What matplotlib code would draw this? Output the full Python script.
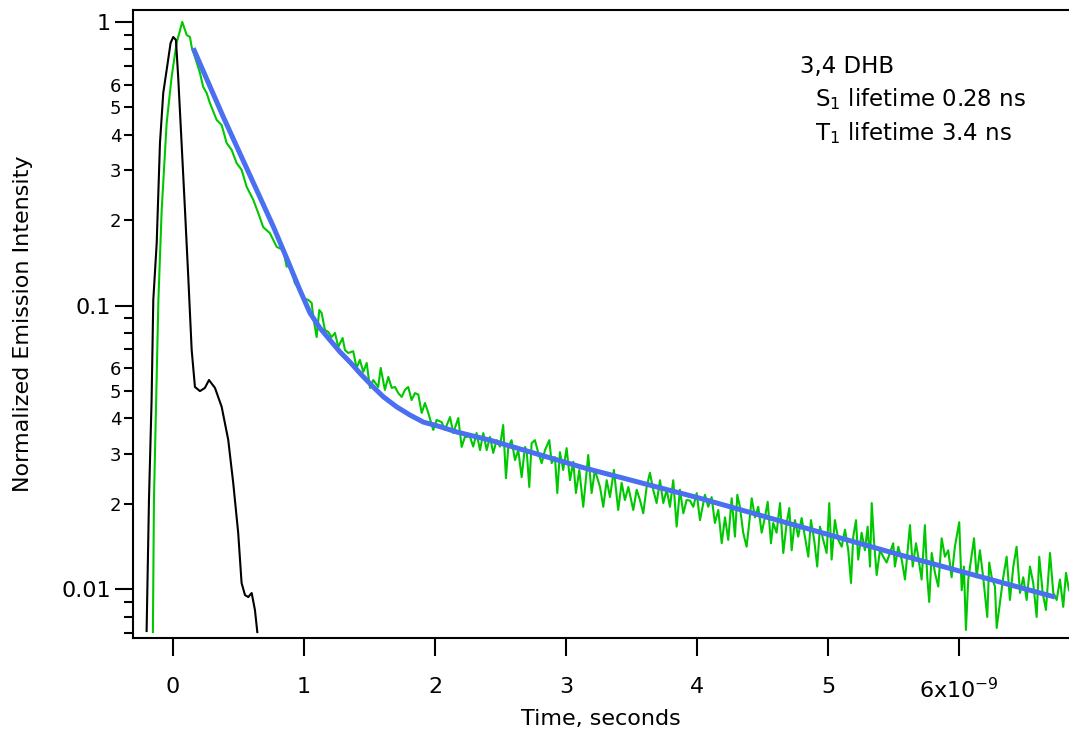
import numpy as np
import matplotlib
matplotlib.use("Agg")
import matplotlib.pyplot as plt
from matplotlib.ticker import FixedLocator, FixedFormatter, NullLocator

# time in ns, intensity normalized
irf_t = [-0.201, -0.183, -0.163, -0.150, -0.124, -0.099, -0.074, -0.048, -0.018, 0.002,
         0.023, 0.040, 0.066, 0.092, 0.117, 0.143, 0.168, 0.206, 0.244, 0.275,
         0.321, 0.372, 0.422, 0.460, 0.498, 0.524, 0.550, 0.575, 0.601, 0.626, 0.644]
irf_y = [0.00711, 0.0206, 0.0464, 0.1045, 0.166, 0.374, 0.562, 0.677, 0.843, 0.885,
         0.864, 0.640, 0.374, 0.217, 0.126, 0.0697, 0.0516, 0.0499, 0.0512, 0.0546,
         0.0512, 0.0439, 0.0336, 0.0237, 0.0158, 0.0105, 0.00952, 0.00937, 0.00968, 0.00843, 0.00705]

decay_t = [-0.153, -0.145, -0.126, -0.111, -0.086, -0.048, -0.010, 0.028, 0.071, 0.105,
           0.130, 0.143, 0.168, 0.206, 0.231, 0.257, 0.282, 0.334, 0.372, 0.410,
           0.448, 0.486, 0.524, 0.563, 0.613, 0.651, 0.689, 0.740, 0.792, 0.842,
           0.868, 0.893, 0.931, 0.969, 0.995, 1.033, 1.059, 1.071, 1.097, 1.117,
           1.135, 1.160, 1.185, 1.211, 1.237, 1.262, 1.295, 1.313, 1.338, 1.376,
           1.402, 1.427, 1.453, 1.479, 1.504, 1.529, 1.567, 1.586, 1.618, 1.644,
           1.670, 1.695, 1.720, 1.746, 1.771, 1.796, 1.822, 1.847, 1.873, 1.899,
           1.924, 1.949, 1.987, 2.013, 2.051, 2.076, 2.115, 2.140, 2.178, 2.204,
           2.229, 2.267, 2.292, 2.318, 2.344, 2.369, 2.395, 2.420, 2.445, 2.471,
           2.496, 2.521, 2.542, 2.560, 2.585, 2.611, 2.636, 2.662, 2.687, 2.700,
           2.720, 2.738, 2.763, 2.789, 2.815, 2.840, 2.873, 2.891, 2.916, 2.934,
           2.954, 2.979, 3.005, 3.031, 3.056, 3.076, 3.102, 3.132, 3.170, 3.196,
           3.221, 3.260, 3.285, 3.311, 3.336, 3.366, 3.399, 3.425, 3.450, 3.476,
           3.514, 3.540, 3.565, 3.590, 3.616, 3.641, 3.666, 3.692, 3.718, 3.743,
           3.769, 3.794, 3.819, 3.845, 3.870, 3.896, 3.921, 3.947, 3.972, 3.998,
           4.023, 4.061, 4.086, 4.112, 4.137, 4.163, 4.189, 4.214, 4.239, 4.265,
           4.290, 4.308, 4.328, 4.353, 4.379, 4.399, 4.418, 4.443, 4.468, 4.494,
           4.519, 4.540, 4.565, 4.582, 4.608, 4.634, 4.659, 4.685, 4.705, 4.723,
           4.748, 4.773, 4.799, 4.824, 4.850, 4.870, 4.895, 4.918, 4.939, 4.964,
           4.990, 5.010, 5.028, 5.053, 5.079, 5.105, 5.130, 5.155, 5.176, 5.193,
           5.214, 5.231, 5.257, 5.282, 5.303, 5.321, 5.334, 5.351, 5.372, 5.397,
           5.422, 5.448, 5.473, 5.498, 5.511, 5.537, 5.563, 5.588, 5.613, 5.626,
           5.647, 5.672, 5.689, 5.715, 5.740, 5.758, 5.773, 5.792, 5.817, 5.842,
           5.868, 5.893, 5.918, 5.944, 5.969, 6.002, 6.021, 6.038, 6.053, 6.071,
           6.092, 6.115, 6.135, 6.160, 6.185, 6.216, 6.231, 6.250, 6.275, 6.288,
           6.313, 6.338, 6.364, 6.389, 6.415, 6.440, 6.466, 6.491, 6.517, 6.542,
           6.567, 6.593, 6.613, 6.639, 6.664, 6.695, 6.720, 6.746, 6.771, 6.796,
           6.817, 6.840]
decay_y = [0.00705, 0.0206, 0.0504, 0.1046, 0.217, 0.440, 0.640, 0.843, 1.0, 0.900,
           0.885, 0.816, 0.753, 0.661, 0.590, 0.562, 0.518, 0.451, 0.433, 0.374,
           0.354, 0.318, 0.301, 0.262, 0.236, 0.212, 0.189, 0.180, 0.161, 0.157,
           0.137, 0.141, 0.1198, 0.1134, 0.1063, 0.1046, 0.1021, 0.0911, 0.0774, 0.0964,
           0.0941, 0.0820, 0.0807, 0.0774, 0.0800, 0.0714, 0.0768, 0.0697, 0.0680, 0.0690,
           0.0602, 0.0643, 0.0583, 0.0627, 0.0512, 0.0546, 0.0516, 0.0602, 0.0504, 0.0560,
           0.0512, 0.0516, 0.0491, 0.0476, 0.0504, 0.0516, 0.0464, 0.0491, 0.0485, 0.0418,
           0.0453, 0.0418, 0.0364, 0.0395, 0.0388, 0.0364, 0.0404, 0.0355, 0.0401, 0.0317,
           0.0344, 0.0345, 0.0318, 0.0355, 0.0309, 0.0355, 0.0309, 0.0344, 0.0302, 0.0335,
           0.0318, 0.0379, 0.0246, 0.0317, 0.0335, 0.0285, 0.0309, 0.0248, 0.0317, 0.0309,
           0.0229, 0.0327, 0.0335, 0.0302, 0.0278, 0.0309, 0.0335, 0.0278, 0.0292, 0.0218,
           0.0304, 0.0263, 0.0314, 0.0242, 0.0281, 0.0218, 0.0263, 0.0195, 0.0297, 0.0218,
           0.0263, 0.0229, 0.0195, 0.0242, 0.0211, 0.0263, 0.0190, 0.0237, 0.0206, 0.0229,
           0.0190, 0.0224, 0.0206, 0.0185, 0.0229, 0.0257, 0.0224, 0.0201, 0.0242, 0.0201,
           0.0224, 0.0195, 0.0242, 0.0166, 0.0224, 0.0185, 0.0206, 0.0205, 0.0195, 0.0218,
           0.0175, 0.0215, 0.0195, 0.0211, 0.0171, 0.0190, 0.0145, 0.0179, 0.0149, 0.0209,
           0.0153, 0.0215, 0.0195, 0.0158, 0.0141, 0.0171, 0.0209, 0.0179, 0.0195, 0.0158,
           0.0179, 0.0203, 0.0145, 0.0171, 0.0158, 0.0201, 0.0134, 0.0171, 0.0193, 0.0137,
           0.0175, 0.0153, 0.0178, 0.0153, 0.0130, 0.0175, 0.0149, 0.0120, 0.0166, 0.0149,
           0.0134, 0.0201, 0.0127, 0.0175, 0.0149, 0.0141, 0.0162, 0.0137, 0.0105, 0.0153,
           0.0175, 0.0127, 0.0158, 0.0137, 0.0166, 0.0120, 0.0201, 0.0149, 0.0112, 0.0137,
           0.0130, 0.0124, 0.0134, 0.0145, 0.0120, 0.0141, 0.0127, 0.0108, 0.0145, 0.0168,
           0.0120, 0.0145, 0.0130, 0.0108, 0.0168, 0.0110, 0.0090, 0.0134, 0.0114, 0.0102,
           0.0151, 0.0130, 0.0137, 0.0110, 0.0141, 0.0172, 0.0099, 0.0120, 0.00717, 0.0108,
           0.0127, 0.0151, 0.0110, 0.0137, 0.0110, 0.00797, 0.0124, 0.0110, 0.0102, 0.00729,
           0.00893, 0.0110, 0.0130, 0.00915, 0.0120, 0.0141, 0.00969, 0.0110, 0.00915, 0.0120,
           0.0105, 0.00797, 0.0130, 0.00969, 0.00844, 0.0134, 0.00969, 0.00915, 0.0108, 0.00865,
           0.0114, 0.0099]

fit_t = [0.155, 0.384, 0.511, 0.639, 0.766, 0.868, 0.969, 1.046, 1.122, 1.198,
         1.275, 1.351, 1.440, 1.529, 1.605, 1.708, 1.809, 1.911, 2.038, 2.166,
         2.420, 3.145, 4.023, 5.550, 6.733]
fit_y = [0.808, 0.463, 0.344, 0.2555, 0.190, 0.147, 0.1134, 0.0941, 0.0833, 0.0756,
         0.0686, 0.0632, 0.0569, 0.0516, 0.0477, 0.0439, 0.0411, 0.0388, 0.0374, 0.0358,
         0.0335, 0.0267, 0.0209, 0.0132, 0.00937]

xticks = [0, 1, 2, 3, 4, 5, 6]
xticklabels = ['0', '1', '2', '3', '4', '5', '6x10$^{-9}$']

fig = plt.figure(figsize=(10.69, 7.42), dpi=100)
ax = fig.add_axes([0.1244, 0.1402, 0.8756, 0.8463])

ax.plot(decay_t, decay_y, color='#00c800', lw=1.5, zorder=2)
ax.plot(irf_t, irf_y, color='black', lw=1.5, zorder=3)
ax.plot(fit_t, fit_y, color='#4a6ff0', lw=3.6, solid_capstyle='butt', zorder=4)

ax.set_yscale('log')
ax.set_xlim(-0.305, 6.84)
ax.set_ylim(0.00672, 1.102)

ax.yaxis.set_major_locator(FixedLocator([0.01, 0.1, 1]))
ax.yaxis.set_major_formatter(FixedFormatter(['0.01', '0.1', '1']))
minor_vals = [0.007, 0.008, 0.009]
minor_labs = ['', '', '']
for dec in [0.01, 0.1]:
    for k in range(2, 10):
        minor_vals.append(k * dec)
        minor_labs.append(str(k) if k <= 6 else '')
ax.yaxis.set_minor_locator(FixedLocator(minor_vals))
ax.yaxis.set_minor_formatter(FixedFormatter(minor_labs))

ax.set_xticks(xticks)
ax.set_xticklabels(xticklabels)
ax.xaxis.set_minor_locator(NullLocator())

for s in ['left', 'bottom', 'top']:
    ax.spines[s].set_linewidth(1.5)
ax.spines['right'].set_visible(False)

ax.tick_params(axis='both', which='major', direction='out', length=13, width=1.5,
               labelsize=16)
ax.tick_params(axis='y', which='major', pad=3)
ax.tick_params(axis='x', which='major', pad=15)
ax.tick_params(axis='y', which='minor', direction='out', length=6.5, width=1.5,
               labelsize=13, pad=2)
ax.tick_params(top=False, right=False)

ax.set_xlabel('Time, seconds', fontsize=16, labelpad=5)
ax.set_ylabel('Normalized Emission Intensity', fontsize=16, labelpad=20)

fig.text(0.7484, 0.9016, '3,4 DHB', fontsize=16.5, va='baseline')
fig.text(0.7624, 0.8571, 'S$_1$ lifetime 0.28 ns', fontsize=16.5, va='baseline')
fig.text(0.7624, 0.8113, 'T$_1$ lifetime 3.4 ns', fontsize=16.5, va='baseline')

fig.savefig('out.png', dpi=100)
